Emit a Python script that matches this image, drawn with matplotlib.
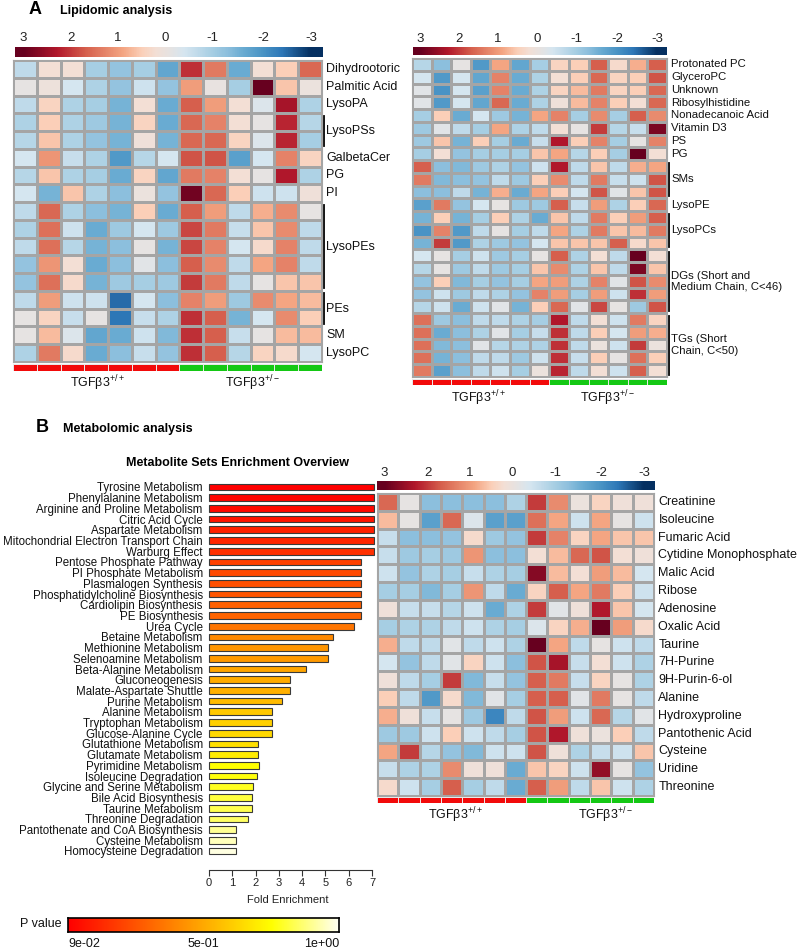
import numpy as np
import matplotlib
matplotlib.use('Agg')
import matplotlib.pyplot as plt
from matplotlib.colors import LinearSegmentedColormap, ListedColormap

plt.rcParams['font.family'] = ['Liberation Sans', 'DejaVu Sans']
plt.rcParams['mathtext.fontset'] = 'custom'
plt.rcParams['mathtext.rm'] = 'Liberation Sans'
plt.rcParams['mathtext.it'] = 'Liberation Sans'
plt.rcParams['mathtext.bf'] = 'Liberation Sans:bold'

# ---------------- DATA ----------------
scale_ticks = ['3', '2', '1', '0', '-1', '-2', '-3']
scale_values = [3, 2, 1, 0, -1, -2, -3]
group_names = ['TGFβ3$^{+/+}$', 'TGFβ3$^{+/-}$']
group_sizes = [7, 6]

# top-left lipidomic heatmap
tl_labels = [('Dihydrootoric', 1), ('Palmitic Acid', 1), ('LysoPA', 1), ('LysoPSs', 2),
             ('GalbetaCer', 1), ('PG', 1), ('PI', 1), ('LysoPEs', 5), ('PEs', 2),
             ('SM', 1), ('LysoPC', 1)]
tl_values = [
    [-0.7, 0.2, 0.2, -1.0, -1.2, -1.0, -1.7, 2.1, 1.4, -1.6, 0.2, 0.5, 1.6],
    [-0.1, 0.05, -0.4, -0.9, -1.2, -0.5, -1.2, 1.0, -0.05, -1.0, 3.0, 0.6, 0.0],
    [-0.7, 0.4, -0.9, -1.0, -1.5, 0.2, -1.6, 1.7, 1.0, 0.2, -0.3, 2.4, -0.9],
    [-0.9, 0.5, -0.9, -1.1, -1.5, 0.4, -1.6, 1.6, 1.3, 0.2, -0.1, 2.2, -0.8],
    [-0.8, 0.6, -0.9, -1.2, -1.5, 0.1, -1.5, 1.6, 1.6, 0.4, -0.3, 2.2, -1.0],
    [-0.4, 1.1, -0.6, -0.9, -1.9, -0.8, -0.4, 1.8, 1.8, -1.8, -0.4, 1.3, 0.4],
    [-0.8, 0.6, -0.9, -1.0, -1.6, 0.4, -1.7, 1.4, 1.3, 0.2, -0.1, 2.3, -0.9],
    [-0.4, -1.5, 0.6, -0.9, -1.3, 0.0, -1.2, 2.9, 1.6, 0.5, -0.5, -0.5, 0.1],
    [-0.7, 1.6, -0.9, -1.3, -1.5, 0.5, -1.6, 1.7, 1.0, -0.7, 0.8, 1.2, -0.1],
    [-0.9, 1.5, -0.5, -1.6, -1.1, -0.4, -1.1, 1.9, 1.4, -0.6, 0.6, 1.2, -0.7],
    [-0.7, 1.5, -0.8, -1.5, -1.3, -0.1, -1.5, 1.9, 1.3, -0.4, 0.3, 1.3, -0.7],
    [-1.2, 1.1, 0.2, -1.6, -1.3, -0.2, -1.3, 1.7, 1.2, -0.7, 0.9, 1.3, -0.7],
    [-1.2, 1.5, 0.3, -1.5, -1.1, -1.0, -1.1, 2.0, 1.4, -0.7, -0.1, 0.6, 0.6],
    [-0.7, 1.0, -0.5, -0.5, -2.5, -0.4, -1.3, 1.3, 1.0, -1.1, 1.2, 0.9, 0.7],
    [-0.1, 0.4, -0.6, -0.1, -2.4, -0.6, -0.9, 2.1, 1.7, -1.5, -0.4, 1.2, 0.5],
    [-0.1, 0.7, -0.3, -1.7, -1.6, -0.5, -1.4, 2.1, 1.7, -0.6, -0.1, 0.7, 0.7],
    [-0.9, 1.4, 0.3, -1.6, -1.3, -0.6, -1.2, 2.1, 1.7, -0.8, 0.4, 0.3, -0.4],
]

# top-right lipidomic heatmap
tr_labels = [('Protonated PC', 1), ('GlyceroPC', 1), ('Unknown', 1), ('Ribosylhistidine', 1),
             ('Nonadecanoic Acid', 1), ('Vitamin D3', 1), ('PS', 1), ('PG', 1), ('SMs', 3),
             ('LysoPE', 1), ('LysoPCs', 3), ('DGs (Short and\nMedium Chain, C<46)', 5),
             ('TGs (Short\nChain, C<50)', 5)]
tr_values = [
    [-0.8, -1.3, -0.1, -1.9, 0.9, -1.7, -1.0, 0.4, 0.5, 1.7, 0.3, 0.8, 1.7],
    [-0.4, -1.9, -0.4, -1.7, 1.3, -1.6, -0.9, 0.2, 0.5, 1.6, 0.4, 0.5, 1.8],
    [-0.2, -2.0, -0.4, -1.8, 1.3, -1.6, -0.9, 0.4, 0.7, 1.4, 0.4, 0.5, 1.6],
    [-0.2, -1.9, -0.4, -1.7, 1.6, -1.6, -0.9, 0.1, 0.7, 1.3, 0.5, 0.2, 1.6],
    [-1.0, 0.5, -1.6, -0.4, -1.1, -1.5, 0.9, 1.3, -1.0, 1.2, -1.0, 1.7, 1.2],
    [-1.1, -0.2, -0.7, -1.0, 0.9, -0.9, -0.7, 0.2, -0.1, 2.0, -0.8, -0.6, 2.8],
    [-1.1, 0.6, -1.5, 0.5, -1.0, -1.6, -0.6, 2.3, 0.5, 1.3, -1.0, -0.1, 1.3],
    [-1.0, 0.2, -1.2, -1.0, -1.0, -1.0, 0.6, 0.9, -0.8, 0.5, -1.0, 3.0, 0.2],
    [1.7, -1.3, -1.4, -1.1, -0.9, -1.2, -0.5, 2.3, -0.7, 0.6, -0.7, 0.8, 0.9],
    [1.4, -1.4, -1.3, -1.2, -0.7, -1.1, 0.5, 1.2, -0.7, 1.4, -0.6, -0.5, 1.8],
    [-1.3, -1.3, -0.7, -1.5, 0.8, -1.6, 0.9, 0.5, -0.4, 1.8, -0.2, 0.6, 1.8],
    [-1.8, 1.4, -1.2, -0.4, -0.1, -1.1, -1.1, 1.7, -0.6, 1.0, -0.9, 0.5, 1.6],
    [-1.5, 0.5, -1.5, -1.0, 0.5, -0.9, -1.6, 0.6, -0.7, 1.4, 0.5, 1.0, 1.7],
    [-2.0, 1.3, -1.9, -0.7, -0.1, -1.0, -0.7, 0.9, -0.9, 1.4, 0.6, 0.7, 1.4],
    [-1.5, 2.0, -1.9, -0.9, -1.1, -1.2, -0.4, 0.6, 0.6, 0.6, 1.7, 0.3, 0.6],
    [-0.4, -0.1, -1.0, -0.5, -1.1, -1.0, -0.1, 1.7, -0.9, 0.2, -0.7, 3.0, 0.2],
    [-0.8, -0.1, -1.1, -0.7, -1.1, -1.0, 0.6, 1.2, -0.9, 0.6, -0.7, 2.8, 0.6],
    [-1.2, 0.5, -1.4, -1.0, -1.2, -1.0, 0.9, 1.0, -0.9, 1.3, -0.2, 1.8, 1.2],
    [-1.2, -0.5, -1.1, -0.7, -0.9, -1.2, 1.3, 1.0, -1.0, 1.0, -0.5, 2.1, 1.0],
    [-0.8, -0.5, -1.6, -0.5, -0.2, -1.5, 0.5, 1.6, -0.2, 1.9, -0.1, -1.1, 1.8],
    [1.5, -1.1, -1.3, -0.7, -0.7, -0.9, -1.0, 2.3, -0.7, 0.2, -0.5, 1.4, 0.4],
    [1.5, -1.6, -1.3, -0.9, -0.2, -1.0, -0.6, 2.1, -0.7, 0.5, -0.4, 1.0, 0.8],
    [1.5, -1.4, -1.3, -0.2, -0.8, -0.9, -0.9, 2.1, -0.7, 0.0, -0.5, 2.0, 0.0],
    [1.5, -1.5, -1.3, -0.7, -0.7, -1.1, -0.5, 2.1, -0.6, 0.5, -0.1, 1.5, 0.5],
    [1.4, -1.8, -1.3, -0.7, -0.5, -1.0, 0.0, 2.2, -0.7, 0.2, -0.5, 1.7, 0.2],
]

# bottom-right metabolomic heatmap
br_labels = [('Creatinine', 1), ('Isoleucine', 1), ('Fumaric Acid', 1),
             ('Cytidine Monophosphate', 1), ('Malic Acid', 1), ('Ribose', 1),
             ('Adenosine', 1), ('Oxalic Acid', 1), ('Taurine', 1), ('7H-Purine', 1),
             ('9H-Purin-6-ol', 1), ('Alanine', 1), ('Hydroxyproline', 1),
             ('Pantothenic Acid', 1), ('Cysteine', 1), ('Uridine', 1), ('Threonine', 1)]
br_values = [
    [1.6, -0.1, -1.3, -1.3, -1.3, -1.3, -0.9, 2.0, 1.2, 0.0, 0.4, 0.1, 0.1],
    [0.7, -0.1, -1.8, 1.6, -0.3, -1.8, -1.8, 1.5, 0.9, -0.5, 0.9, -0.1, -0.5],
    [-0.6, -1.3, -1.3, -1.2, 0.3, -1.1, -1.2, 2.0, 1.3, 0.4, 0.9, 0.6, 0.6],
    [-0.6, -1.1, -1.0, -1.1, 1.1, -1.3, -1.3, 0.2, 0.7, 1.6, 1.8, 0.2, 0.1],
    [-0.5, -1.2, -0.9, -1.0, -0.6, -0.9, -1.0, 2.7, 0.7, 0.2, 1.0, 0.7, -0.4],
    [-1.0, -1.0, -1.4, -1.0, 1.1, -0.7, -1.6, 0.4, 1.7, 0.9, 1.4, 0.5, -0.5],
    [0.1, -0.6, -0.6, -0.8, -0.5, -1.6, -0.9, 2.0, -0.2, 0.1, 2.3, 0.6, -0.4],
    [-1.0, -0.9, -0.9, -0.7, -0.5, -0.9, -1.0, -0.3, 0.4, 0.8, 3.0, 1.0, 0.3],
    [0.8, -0.7, -0.7, -0.2, -0.7, -0.5, -0.9, 3.2, 0.9, -0.7, -0.1, -0.5, -0.7],
    [-0.4, -1.2, -0.7, -0.2, 0.4, -0.5, -1.3, 1.8, 2.4, -0.6, 0.2, -0.5, -0.9],
    [0.1, -0.7, -1.0, 2.0, -1.4, -0.6, -1.2, 1.7, 1.4, -0.6, 0.4, -0.1, -0.9],
    [0.5, -0.7, -1.9, 0.3, -1.4, -0.2, -1.0, 1.7, 1.7, -0.2, 1.4, -0.1, -0.7],
    [0.8, 0.1, -0.6, -0.1, -1.1, -2.2, -0.7, 1.8, 1.0, -0.5, 1.6, -0.8, -0.2],
    [-1.1, -1.1, -0.5, 0.5, -0.5, -0.7, -1.0, 1.8, 2.3, 0.1, 0.0, 0.5, -0.7],
    [0.9, 2.0, -0.8, -1.2, -1.4, -0.5, -0.5, 1.8, 0.1, -0.9, -0.6, -0.5, 0.6],
    [-0.6, -0.9, -0.9, 1.2, 0.1, 0.1, -1.6, 0.6, 0.4, -0.5, 2.6, -0.1, -1.2],
    [0.3, -0.5, -1.0, 1.7, -1.0, -0.7, -1.6, 1.7, 1.0, -0.7, 0.6, -0.5, -0.9],
]

# enrichment bar chart
pathways = ['Tyrosine Metabolism', 'Phenylalanine Metabolism', 'Arginine and Proline Metabolism',
            'Citric Acid Cycle', 'Aspartate Metabolism', 'Mitochondrial Electron Transport Chain',
            'Warburg Effect', 'Pentose Phosphate Pathway', 'PI Phosphate Metabolism',
            'Plasmalogen Synthesis', 'Phosphatidylcholine Biosynthesis', 'Cardiolipin Biosynthesis',
            'PE Biosynthesis', 'Urea Cycle', 'Betaine Metabolism', 'Methionine Metabolism',
            'Selenoamine Metabolism', 'Beta-Alanine Metabolism', 'Gluconeogenesis',
            'Malate-Aspartate Shuttle', 'Purine Metabolism', 'Alanine Metabolism',
            'Tryptophan Metabolism', 'Glucose-Alanine Cycle', 'Glutathione Metabolism',
            'Glutamate Metabolism', 'Pyrimidine Metabolism', 'Isoleucine Degradation',
            'Glycine and Serine Metabolism', 'Bile Acid Biosynthesis', 'Taurine Metabolism',
            'Threonine Degradation', 'Pantothenate and CoA Biosynthesis', 'Cysteine Metabolism',
            'Homocysteine Degradation']
fold_enrichment = [7.1, 7.08, 7.08, 7.08, 7.08, 7.08, 7.08, 6.52, 6.52, 6.52, 6.52, 6.52,
                   6.52, 6.22, 5.31, 5.11, 5.11, 4.18, 3.46, 3.46, 3.12, 2.69, 2.69, 2.69,
                   2.12, 2.12, 2.14, 2.05, 1.87, 1.86, 1.83, 1.69, 1.17, 1.15, 1.15]
p_values = [0.090, 0.104, 0.117, 0.146, 0.176, 0.189, 0.218, 0.261, 0.288, 0.304, 0.318,
            0.347, 0.360, 0.403, 0.459, 0.489, 0.502, 0.532, 0.545, 0.561, 0.588, 0.625,
            0.647, 0.668, 0.690, 0.716, 0.772, 0.782, 0.800, 0.827, 0.845, 0.864, 0.909,
            0.945, 0.982]
p_ticks = ['9e-02', '5e-01', '1e+00']
p_min, p_max = 0.09, 1.0
fold_ticks = [0, 1, 2, 3, 4, 5, 6, 7]

# ---------------- STYLE ----------------
heat_anchor_vals = [-3.0, -2.4, -2.0, -1.6, -1.3, -1.0, -0.7, -0.4, -0.1, 0.2, 0.5, 0.9, 1.3, 1.7, 2.3, 3.0]
heat_anchor_cols = ['#053061', '#2E78B8', '#4A94C5', '#6AACD2', '#8DBFDD', '#A6CEE3', '#BFDAEA',
                    '#D6E6F0', '#E6E3E2', '#F3DFD5', '#FBD0B9', '#F4A582', '#E58368', '#D6604D',
                    '#B2182B', '#67001F']
hcmap = LinearSegmentedColormap.from_list(
    'heat', list(zip([(v + 3) / 6 for v in heat_anchor_vals], heat_anchor_cols)))
pcmap = LinearSegmentedColormap.from_list(
    'pval', [(0.0, '#FF0000'), (0.75, '#FFFF00'), (1.0, '#FFFFF4')])
tick_fracs = [0.027, 0.183, 0.335, 0.488, 0.642, 0.806, 0.962]

W, H = 797, 951
fig = plt.figure(figsize=(W / 100, H / 100), dpi=100)


def px_axes(x0, y0, x1, y1):
    return fig.add_axes([x0 / W, 1 - y1 / H, (x1 - x0) / W, (y1 - y0) / H])


def ftext(x, y, s, **kw):
    return fig.text(x / W, 1 - y / H, s, **kw)


def colorbar(x0, y0, x1, y1):
    ax = px_axes(x0, y0, x1, y1)
    fr = np.linspace(0, 1, 400)
    vals = np.interp(fr, tick_fracs, scale_values)
    ax.imshow(vals[None, :], cmap=hcmap, vmin=-3, vmax=3, aspect='auto', extent=[0, 1, 0, 1])
    ax.set_xlim(0, 1)
    ax.axis('off')
    for f, t in zip(tick_fracs, scale_ticks):
        ax.text(f, 1.0 + 8.5 / (y1 - y0), t, transform=ax.transAxes, ha='center', va='center',
                fontsize=9.5, color='#222222')


def heatmap(x0, y0, x1, y1, values, labels, fs, bar_y0, bar_y1, glabel_y, glabel_x):
    data = np.array(values)
    nr, nc = data.shape
    ax = px_axes(x0, y0, x1, y1)
    ax.pcolormesh(np.arange(nc + 1), np.arange(nr + 1), data, cmap=hcmap, vmin=-3, vmax=3,
                  edgecolors='#A5A5A5', linewidth=0.8)
    ax.set_xlim(0, nc)
    ax.set_ylim(nr, 0)
    ax.set_xticks([])
    ax.set_yticks([])
    for s in ax.spines.values():
        s.set_color('#A5A5A5')
        s.set_linewidth(0.8)
    wpx = x1 - x0
    hrow = (y1 - y0) / nr
    r = 0
    for lab, n in labels:
        yc = r + n / 2
        if n > 1:
            ax.plot([1 + 1.5 / wpx, 1 + 1.5 / wpx], [r + 2.5 / hrow, r + n - 2.5 / hrow],
                    transform=ax.get_yaxis_transform(), color='black', lw=1.3, clip_on=False)
        ax.annotate(lab, xy=(1, yc), xycoords=('axes fraction', 'data'), xytext=(3.2, 0),
                    textcoords='offset points', ha='left', va='center', fontsize=fs,
                    color='#111111', linespacing=1.15)
        r += n
    # group colour bar
    gax = px_axes(x0, bar_y0, x1, bar_y1)
    grp = np.concatenate([[i] * n for i, n in enumerate(group_sizes)])
    gax.pcolormesh(np.arange(nc + 1), [0, 1], grp[None, :],
                   cmap=ListedColormap(['#F20A0A', '#14C814']), vmin=0, vmax=1,
                   edgecolors='#E8E8E8', linewidth=0.6)
    gax.set_xlim(0, nc)
    gax.axis('off')
    for name, gx in zip(group_names, glabel_x):
        ftext(gx, glabel_y, name, ha='center', va='center', fontsize=9, color='#111111')


# ---- panel A ----
ftext(35, 10, 'A', fontsize=13, fontweight='bold', ha='center', va='center')
ftext(60, 11, 'Lipidomic analysis', fontsize=9, fontweight='bold', ha='left', va='center')
colorbar(15, 47, 323, 57)
heatmap(13, 60, 322, 362, tl_values, tl_labels, 9, 364, 371, 383, [97, 252])
colorbar(413, 47, 667, 55)
heatmap(412, 58, 667, 377, tr_values, tr_labels, 8.2, 379, 385, 398, [478, 607])

# ---- panel B ----
ftext(42, 428, 'B', fontsize=13, fontweight='bold', ha='center', va='center')
ftext(63, 429, 'Metabolomic analysis', fontsize=9, fontweight='bold', ha='left', va='center')
colorbar(377, 481, 655, 490)
heatmap(377, 493, 654, 796, br_values, br_labels, 9, 797, 803, 815, [455, 605])

# bar chart
ftext(238, 463, 'Metabolite Sets Enrichment Overview', fontsize=9, fontweight='bold',
      ha='center', va='center')
n = len(pathways)
top_px, bot_px, step = 487, 870, (851 - 487) / (n - 1)
bax = px_axes(209, 481, 372, 870)
pnorm = [(p - p_min) / (p_max - p_min) for p in p_values]
bax.barh(np.arange(n), fold_enrichment, height=0.63, color=[pcmap(v) for v in pnorm],
         edgecolor='#3A3A3A', linewidth=0.8, clip_on=False)
bax.set_xlim(0, 7)
bax.set_ylim((bot_px - top_px) / step, (481 - top_px) / step)
bax.set_yticks(np.arange(n), pathways, fontsize=8.3)
bax.tick_params(axis='y', length=0, pad=4.5, labelcolor='#111111')
bax.set_xticks(fold_ticks, [str(t) for t in fold_ticks], fontsize=8)
bax.tick_params(axis='x', length=4, width=0.8, color='#333333', pad=2, labelcolor='#222222')
for s in ['left', 'top', 'right']:
    bax.spines[s].set_visible(False)
bax.spines['bottom'].set_bounds(0, 7)
bax.spines['bottom'].set_linewidth(0.8)
bax.spines['bottom'].set_color('#333333')
bax.set_facecolor('none')
ftext(288, 900, 'Fold Enrichment', fontsize=8, ha='center', va='center', color='#222222')

# p-value colour bar
pax = px_axes(68, 918, 339, 932)
grad = np.linspace(0, 1, 400)
pax.imshow(grad[None, :], cmap=pcmap, vmin=0, vmax=1, aspect='auto', extent=[0, 1, 0, 1])
pax.set_xticks([])
pax.set_yticks([])
for s in pax.spines.values():
    s.set_linewidth(1.2)
    s.set_color('black')
ftext(62, 924, 'P value', fontsize=9, ha='right', va='center', color='#111111')
ftext(68, 944, p_ticks[0], fontsize=9, ha='left', va='center', color='#111111')
ftext(203.5, 944, p_ticks[1], fontsize=9, ha='center', va='center', color='#111111')
ftext(339, 944, p_ticks[2], fontsize=9, ha='right', va='center', color='#111111')

fig.savefig('out.png', dpi=100)
